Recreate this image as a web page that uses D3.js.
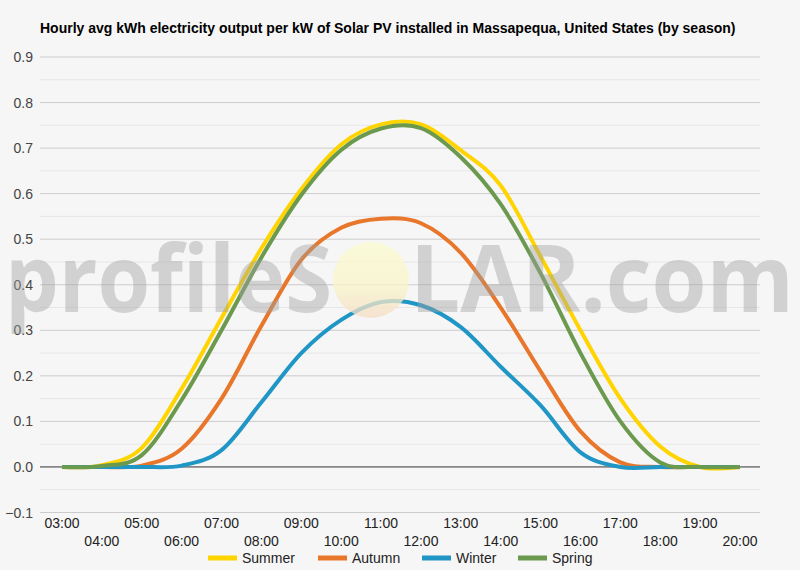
<!DOCTYPE html>
<html>
<head>
<meta charset="utf-8">
<script src="https://cdn.jsdelivr.net/npm/d3@7/dist/d3.min.js"></script>
<style>
  body { margin: 0; background: #f6f6f6; }
  svg { display: block; }
</style>
</head>
<body>
<div id="plot"></div>
<script>
'use strict';

var hours = ['03:00', '04:00', '05:00', '06:00', '07:00', '08:00', '09:00', '10:00', '11:00',
             '12:00', '13:00', '14:00', '15:00', '16:00', '17:00', '18:00', '19:00', '20:00'];

var summer = [0, 0.004, 0.042, 0.172, 0.327, 0.48, 0.61, 0.708, 0.752, 0.752, 0.695, 0.618, 0.462, 0.30, 0.15, 0.045, 0, 0];
var autumn = [0, 0, 0.003, 0.04, 0.15, 0.31, 0.455, 0.525, 0.545, 0.535, 0.47, 0.35, 0.21, 0.078, 0.01, 0, 0, 0];
var winter = [0, 0, 0, 0.003, 0.037, 0.142, 0.25, 0.323, 0.362, 0.355, 0.307, 0.22, 0.135, 0.032, 0, 0, 0, 0];
var spring = [0, 0.002, 0.026, 0.147, 0.30, 0.46, 0.597, 0.696, 0.743, 0.744, 0.68, 0.577, 0.425, 0.25, 0.10, 0.01, 0, 0];

var seriesNames = ['Summer', 'Autumn', 'Winter', 'Spring'];
var seriesColors = ['#ffd400', '#e8762b', '#2096c6', '#6b9a4f'];
var yTicks = [-0.1, 0, 0.1, 0.2, 0.3, 0.4, 0.5, 0.6, 0.7, 0.8, 0.9];

var title = 'Hourly avg kWh electricity output per kW of Solar PV installed in Massapequa, United States (by season)';

var width = 800;
var height = 570;

var series = [summer, autumn, winter, spring].map(function (vals, i) {
    return { name: seriesNames[i], color: seriesColors[i], values: vals };
});

var svg = d3.select('#plot')
    .append('svg')
        .attr('width', width)
        .attr('height', height)
        .style('font-family', 'Liberation Sans, Arial, sans-serif');

svg.append('rect')
    .attr('width', width)
    .attr('height', height)
    .attr('fill', '#f6f6f6');

var x = d3.scalePoint().domain(hours).range([62, 740]);
var y = d3.scaleLinear().domain([-0.1, 0.9]).range([512.5, 57]);

// title
svg.append('text')
    .attr('x', 40)
    .attr('y', 33)
    .attr('font-size', 14)
    .attr('font-weight', 'bold')
    .attr('fill', '#000')
    .text(title);

// gridlines: minor between the major ones
var minor = yTicks.slice(0, -1).map(d => d + 0.05);
svg.append('g').selectAll('line')
    .data(minor)
    .enter()
    .append('line')
    .attr('x1', 40).attr('x2', 760)
    .attr('y1', d => y(d)).attr('y2', d => y(d))
    .attr('stroke', '#e6e6e6')
    .attr('stroke-width', 1);

svg.append('g').selectAll('line')
    .data(yTicks.filter(d => d !== 0))
    .enter()
    .append('line')
    .attr('x1', 40).attr('x2', 760)
    .attr('y1', d => y(d)).attr('y2', d => y(d))
    .attr('stroke', '#cccccc')
    .attr('stroke-width', 1);

svg.append('line')
    .attr('x1', 40).attr('x2', 760)
    .attr('y1', y(0)).attr('y2', y(0))
    .attr('stroke', '#333')
    .attr('stroke-width', 1);

// y labels
svg.append('g').selectAll('text')
    .data(yTicks)
    .enter()
    .append('text')
    .attr('x', 33)
    .attr('y', d => y(d) + 5)
    .attr('text-anchor', 'end')
    .attr('font-size', 14)
    .attr('fill', '#444')
    .text(d => d3.format('.1f')(d));

// x labels on two rows
svg.append('g').selectAll('text')
    .data(hours)
    .enter()
    .append('text')
    .attr('x', d => x(d))
    .attr('y', (d, i) => i % 2 === 0 ? 528 : 546)
    .attr('text-anchor', 'middle')
    .attr('font-size', 14)
    .attr('fill', '#222')
    .text(d => d);

// lines
var line = d3.line()
    .x((d, i) => x(hours[i]))
    .y(d => y(d))
    .curve(d3.curveCardinal.tension(0));

svg.append('g').selectAll('path')
    .data(series)
    .enter()
    .append('path')
    .attr('d', d => line(d.values))
    .attr('fill', 'none')
    .attr('stroke', d => d.color)
    .attr('stroke-width', 4)
    .attr('stroke-linejoin', 'round');

// watermark
var defs = svg.append('defs');
var grad = defs.append('linearGradient')
    .attr('id', 'sun')
    .attr('x1', 0).attr('y1', 0).attr('x2', 0).attr('y2', 1);
grad.append('stop').attr('offset', '0%').attr('stop-color', '#fbfbcf');
grad.append('stop').attr('offset', '60%').attr('stop-color', '#f9f3c8');
grad.append('stop').attr('offset', '100%').attr('stop-color', '#f5dcc4');

svg.append('circle')
    .attr('cx', 371)
    .attr('cy', 280)
    .attr('r', 38)
    .attr('fill', 'url(#sun)')
    .attr('opacity', 0.75);

var wm = svg.append('g')
    .attr('font-family', 'Open Sans, sans-serif')
    .attr('font-weight', 'bold')
    .attr('font-size', 94)
    .attr('fill', '#a0a0a0')
    .attr('opacity', 0.42);

wm.append('text')
    .attr('x', 5)
    .attr('y', 312)
    .attr('textLength', 327)
    .attr('lengthAdjust', 'spacingAndGlyphs')
    .text('profileS');

wm.append('text')
    .attr('x', 410)
    .attr('y', 312)
    .attr('textLength', 384)
    .attr('lengthAdjust', 'spacingAndGlyphs')
    .text('LAR.com');

// legend
var legend = svg.append('g').selectAll('g')
    .data(series)
    .enter()
    .append('g')
    .attr('transform', (d, i) => 'translate(' + [208, 318, 422, 518][i] + ',558)');

legend.append('line')
    .attr('x1', 0).attr('x2', 29)
    .attr('stroke', d => d.color)
    .attr('stroke-width', 5);

legend.append('text')
    .attr('x', 34)
    .attr('y', 5)
    .attr('font-size', 14)
    .attr('fill', '#222')
    .text(d => d.name);
</script>
</body>
</html>
